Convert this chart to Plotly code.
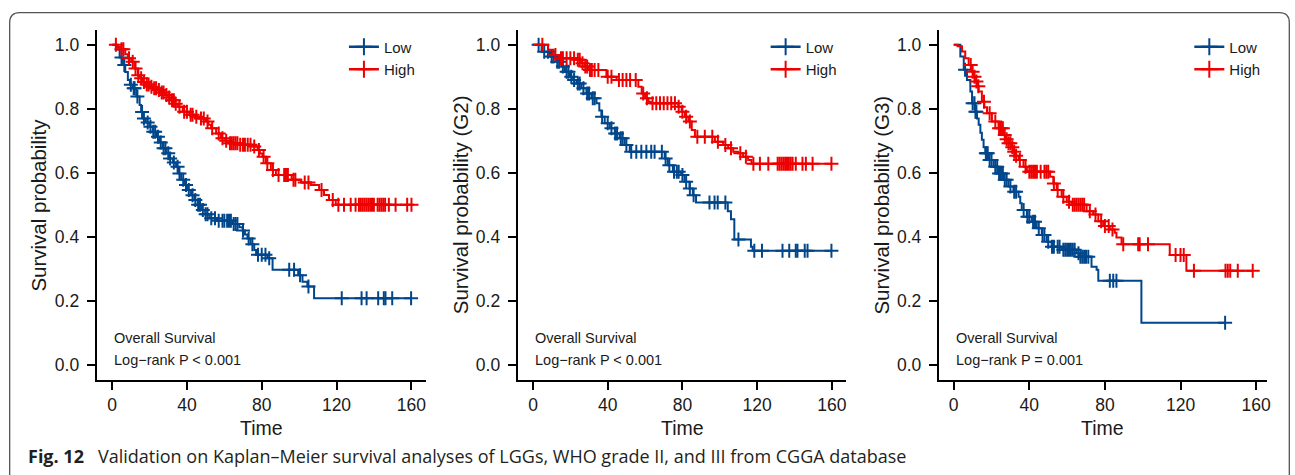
import numpy as np
import plotly.graph_objects as go

BLUE = "#00468B"
RED = "#ED0000"

# ---------------- data ----------------
# Panel 1: LGG overall
p1_low_t = [2, 4, 5.8, 7, 8.4, 9.5, 11.1, 12.9, 14.7, 15.5, 16.4, 18, 20, 21.8, 23.6, 25.3, 27.1, 29, 30.7, 32.5,
            34.2, 35.5, 36.9, 38.6, 40.4, 42.2, 44, 45.8, 47.6, 49.8, 52, 56, 64.4, 68, 69.8, 71, 72.4, 74, 76, 77,
            83.1, 85.8, 99.5, 101.8, 104.4, 108]
p1_low_s = [0.985, 0.96, 0.937, 0.915, 0.89, 0.875, 0.864, 0.838, 0.812, 0.79, 0.77, 0.757, 0.744, 0.728, 0.713,
            0.695, 0.677, 0.661, 0.645, 0.632, 0.619, 0.598, 0.578, 0.562, 0.546, 0.53, 0.515, 0.5, 0.484, 0.471,
            0.458, 0.45, 0.44, 0.43, 0.42, 0.407, 0.395, 0.377, 0.359, 0.344, 0.333, 0.297, 0.28, 0.26, 0.245, 0.208]
p1_low_c = [5, 6.5, 10, 11.5, 12, 13.5, 16, 17, 19, 20.5, 22, 23, 24.5, 26, 27.5, 28.5, 30, 31, 33, 35, 36, 38,
            39.5, 41, 43, 44.5, 46, 47, 48.5, 50, 51, 53, 55, 57, 59, 60, 61.5, 62.5, 63.5, 65, 66, 67, 70, 73, 75,
            78, 80, 82, 84, 94.7, 97.3, 100.5, 105, 122.8, 133.4, 136.1, 142.3, 145.3, 146.2, 149.8, 159.9]
p1_high_t = [3, 4.9, 7, 8.5, 10.2, 12, 13.8, 15, 16.4, 18, 20, 22, 24.4, 26, 28, 30, 31.6, 33.5, 35.1, 37.8, 41.3,
             44, 46.7, 50.2, 51.5, 52.9, 55.6, 58.2, 60.5, 62.7, 68, 75, 77.8, 79, 80.4, 82.2, 84.9, 87.6, 96, 101,
             106.2, 110.7, 113.3, 116, 119.6]
p1_high_s = [0.993, 0.986, 0.97, 0.958, 0.947, 0.926, 0.905, 0.895, 0.884, 0.876, 0.869, 0.864, 0.859, 0.851,
             0.843, 0.835, 0.827, 0.816, 0.806, 0.791, 0.781, 0.775, 0.77, 0.76, 0.75, 0.739, 0.723, 0.708, 0.7,
             0.692, 0.688, 0.682, 0.671, 0.66, 0.65, 0.63, 0.609, 0.593, 0.578, 0.57, 0.562, 0.546, 0.531, 0.515, 0.5]
p1_high_c = [2, 5, 6, 9, 11, 12.5, 14, 15.5, 17, 18.5, 19.5, 21, 22.5, 23.5, 25, 26.5, 27.5, 29, 30.5, 32, 33, 34,
             36, 38.5, 40, 42, 43, 45, 47.5, 49, 51, 53.5, 57, 59, 61, 63, 64, 65, 66, 67, 68.5, 70, 71, 72.5, 74, 76,
             78.5, 81, 83, 86, 89, 92, 93, 94, 97, 98, 103, 105, 112, 118, 121, 124, 127.6, 130.2, 132, 133, 134,
             135, 136, 137, 138, 139, 140, 142, 143, 144, 145, 146, 148, 151.6, 157.8, 160.1]

# Panel 2: WHO grade II
p2_low_t = [4.6, 9.1, 12.6, 15.3, 17.1, 19.8, 21.5, 23.3, 25.9, 28.6, 31.3, 34, 35.5, 36.6, 38.4, 41.1, 43.8, 46.4,
            49.1, 51.8, 70.5, 72.2, 74.9, 79.3, 81.1, 83.8, 85.6, 87.3, 104.3, 106, 107.8, 116.7, 117.6]
p2_low_s = [0.978, 0.963, 0.947, 0.932, 0.916, 0.9, 0.89, 0.879, 0.864, 0.848, 0.833, 0.817, 0.795, 0.775, 0.755,
            0.739, 0.723, 0.708, 0.687, 0.666, 0.645, 0.624, 0.603, 0.593, 0.572, 0.551, 0.53, 0.507, 0.48, 0.455,
            0.392, 0.369, 0.357]
p2_low_c = [3, 6, 8, 10, 11, 13, 14, 16, 18, 19, 20.5, 22, 24, 25, 27, 29, 30, 32, 33, 37, 40, 42, 44, 45, 47, 48,
            50, 52.6, 55.3, 58, 60.7, 63.3, 65.1, 69, 71, 73, 75.5, 77, 78, 80, 82, 84, 86, 94.5, 97.2, 98.9, 103,
            110, 118.5, 122.6, 133.6, 137.2, 140.7, 141.6, 145.5, 147, 159.8]
p2_high_t = [8.1, 10.8, 14, 23.3, 25.9, 27.7, 29.5, 39.3, 44.7, 56.4, 58.2, 60, 61.8, 63, 77.8, 79.6, 81.4, 83.2,
             85, 86.7, 97.4, 101.8, 104.5, 107.2, 109.8, 112.5, 115.2, 117]
p2_high_s = [0.984, 0.968, 0.958, 0.953, 0.942, 0.932, 0.921, 0.9, 0.89, 0.869, 0.848, 0.833, 0.822, 0.817, 0.806,
             0.791, 0.775, 0.76, 0.734, 0.713, 0.697, 0.687, 0.677, 0.666, 0.661, 0.65, 0.64, 0.628]
p2_high_c = [5, 12, 15, 16, 18, 20, 22, 24, 25, 26.5, 28, 29, 30.5, 31.5, 33, 35, 40, 42, 46, 48, 50, 52, 55, 59,
             61, 64, 66, 68, 70, 72, 74, 76, 78, 80, 82, 84, 88, 92, 96, 99, 103, 106, 111, 114, 118, 121.5, 126,
             131, 132, 133, 134, 135, 136, 137, 138, 139, 140.7, 144.3, 146.1, 149.7, 159.8]

# Panel 3: WHO grade III
p3_low_t = [3.5, 5.3, 7, 8.8, 9.7, 11.4, 12.3, 13.2, 14.1, 14.9, 15.8, 16.7, 18.5, 21.1, 23.7, 26.4, 29, 31.6, 34.3,
            35.2, 36, 38.7, 41.3, 43.9, 46.6, 49.2, 51.8, 57, 65, 66.8, 72.9, 75.6, 76.5, 99.3]
p3_low_s = [0.963, 0.922, 0.89, 0.854, 0.817, 0.791, 0.77, 0.75, 0.725, 0.703, 0.68, 0.661, 0.64, 0.619, 0.598,
            0.578, 0.557, 0.541, 0.525, 0.505, 0.484, 0.463, 0.447, 0.427, 0.406, 0.385, 0.369, 0.36, 0.349, 0.338,
            0.307, 0.297, 0.263, 0.132]
p3_low_c = [6, 10, 11, 11.5, 12, 17, 17.5, 18, 19, 20, 22, 23, 24, 25, 26, 27, 28, 30, 32, 33, 37, 39, 40, 42, 43,
            45, 47, 48, 50, 52, 53, 55, 56, 58, 59, 60, 61, 62, 63, 64, 66, 67, 68, 69, 70, 71.2, 82.6, 84.4, 86.1,
            143.6]
p3_high_t = [2, 4.4, 6.1, 7.9, 9.7, 10.5, 11.4, 12.3, 13.2, 14.9, 16.2, 17.6, 20.2, 23.7, 26.4, 27.7, 29, 30.3,
             31.6, 33, 34.3, 36.9, 38.7, 51, 52.7, 54.5, 57.1, 59.8, 62.4, 70.3, 73.8, 76.5, 79.1, 82.6, 85.2, 86.1,
             88.8, 114.3, 123.1]
p3_high_s = [0.995, 0.979, 0.958, 0.937, 0.916, 0.9, 0.885, 0.87, 0.854, 0.822, 0.805, 0.786, 0.76, 0.739, 0.718,
             0.705, 0.692, 0.68, 0.666, 0.653, 0.64, 0.619, 0.603, 0.588, 0.567, 0.546, 0.525, 0.51, 0.5, 0.48,
             0.47, 0.449, 0.434, 0.423, 0.413, 0.398, 0.377, 0.343, 0.294]
p3_high_c = [9, 10, 11, 12, 13, 16, 19, 22, 24, 25, 26, 27, 28, 29, 30, 31, 32, 33, 35, 38, 40, 41, 42, 43, 44, 46,
             48, 49, 50, 53, 55, 58, 61, 63, 64, 65, 66, 67, 68, 69, 72, 75, 78, 80, 82, 84, 89.7, 97.6, 98.4, 102.8,
             117.4, 120, 121.7, 127.1, 143.8, 145, 146.3, 150.3, 158.2]

y_titles = ["Survival probability", "Survival probability (G2)", "Survival probability (G3)"]
pvals = ["Log\u2212rank P < 0.001", "Log\u2212rank P < 0.001", "Log\u2212rank P = 0.001"]
x_ticks = [0, 40, 80, 120, 160]
y_ticks = [0.0, 0.2, 0.4, 0.6, 0.8, 1.0]

panels = [
    (p1_low_t, p1_low_s, p1_low_c, p1_high_t, p1_high_s, p1_high_c),
    (p2_low_t, p2_low_s, p2_low_c, p2_high_t, p2_high_s, p2_high_c),
    (p3_low_t, p3_low_s, p3_low_c, p3_high_t, p3_high_s, p3_high_c),
]

# ---------------- layout geometry (pixels) ----------------
W, H = 1295, 475
x_dom_px = [(97, 427), (519.3, 849), (941.7, 1271)]
x_ranges = [(-8.27, 167.7), (-8.2, 167.8), (-7.9, 165.8)]
y_dom_px = (30, 380)
y_range = (-0.047, 1.046)
ytitle_x_px = [37.7, 461.7, 883.3]
legend_x_px = [345, 768, 1193]


def step_xy(ev_t, ev_s, cens):
    end = max(max(cens), max(ev_t))
    xs = [0] + list(ev_t) + [end]
    ys = [1.0] + list(ev_s) + [ev_s[-1]]
    return xs, ys


def surv_at(ev_t, ev_s, t):
    ev_t = np.asarray(ev_t)
    ev_s = np.asarray(ev_s)
    idx = np.searchsorted(ev_t, t, side="right") - 1
    return np.where(idx >= 0, ev_s[np.clip(idx, 0, None)], 1.0)


fig = go.Figure()
font_axis = "Liberation Sans, Arial, sans-serif"

for i, (lt, ls, lc, ht, hs, hc) in enumerate(panels):
    n = "" if i == 0 else str(i + 1)
    xa, ya = "x" + n, "y" + n
    leg = "legend" if i == 0 else "legend" + str(i + 1)
    for name, et, es, ec, col in [("Low", lt, ls, lc, BLUE), ("High", ht, hs, hc, RED)]:
        xs, ys = step_xy(et, es, ec)
        fig.add_trace(go.Scatter(x=xs, y=ys, mode="lines", line=dict(color=col, width=2, shape="hv"),
                                 xaxis=xa, yaxis=ya, showlegend=False, hoverinfo="skip"))
        cy = surv_at(et, es, np.asarray(ec))
        fig.add_trace(go.Scatter(x=ec, y=cy, mode="markers",
                                 marker=dict(symbol="cross-thin", size=10, color=col,
                                             line=dict(width=2, color=col)),
                                 xaxis=xa, yaxis=ya, showlegend=False, hoverinfo="skip"))
        # legend entry
        fig.add_trace(go.Scatter(x=[None], y=[None], mode="lines+markers", name=name,
                                 line=dict(color=col, width=2.5),
                                 marker=dict(symbol="cross-thin", size=12, color=col,
                                             line=dict(width=2, color=col)),
                                 xaxis=xa, yaxis=ya, legend=leg, showlegend=True))

    x0, x1 = x_dom_px[i]
    axis_common = dict(showline=True, linecolor="black", linewidth=2, ticks="outside", ticklen=8,
                       tickwidth=2, tickcolor="black", showgrid=False, zeroline=False,
                       tickfont=dict(family=font_axis, size=17.5, color="#1a1a1a"), mirror=False)
    fig.update_layout({
        "xaxis" + n: dict(domain=[x0 / W, x1 / W], range=list(x_ranges[i]), tickvals=x_ticks,
                          anchor=ya, ticklabelstandoff=0, **axis_common),
        "yaxis" + n: dict(domain=[1 - y_dom_px[1] / H, 1 - y_dom_px[0] / H], range=list(y_range),
                          tickvals=y_ticks, tickformat=".1f", anchor=xa, ticklabelstandoff=4, **axis_common),
        leg: dict(x=legend_x_px[i] / W, y=1 - 30.5 / H, xanchor="left", yanchor="top",
                  bgcolor="rgba(0,0,0,0)", font=dict(family=font_axis, size=15, color="#1a1a1a"),
                  tracegroupgap=0, itemwidth=30),
    })

    # text annotations
    fig.add_annotation(x=0, y=0.084, xref=xa, yref=ya, text="Overall Survival", showarrow=False,
                       xanchor="left", yanchor="middle", font=dict(family=font_axis, size=14.5, color="#1a1a1a"))
    fig.add_annotation(x=0, y=0.016, xref=xa, yref=ya, text=pvals[i], showarrow=False,
                       xanchor="left", yanchor="middle", font=dict(family=font_axis, size=14.5, color="#1a1a1a"))
    fig.add_annotation(x=(x0 + x1) / 2 / W, y=1 - 428 / H, xref="paper", yref="paper", text="Time",
                       showarrow=False, xanchor="center", yanchor="middle",
                       font=dict(family=font_axis, size=19.5, color="#1a1a1a"))
    fig.add_annotation(x=ytitle_x_px[i] / W, y=1 - 205 / H, xref="paper", yref="paper", text=y_titles[i],
                       showarrow=False, textangle=-90, xanchor="center", yanchor="middle",
                       font=dict(family=font_axis, size=20.5, color="#1a1a1a"))

# caption
fig.add_annotation(x=26.5 / W, y=1 - 456 / H, xref="paper", yref="paper", text="<b>Fig. 12</b>",
                   showarrow=False, xanchor="left", yanchor="middle",
                   font=dict(family="Open Sans, sans-serif", size=18, color="#231f20"))
fig.add_annotation(x=96.5 / W, y=1 - 456 / H, xref="paper", yref="paper",
                   text="Validation on Kaplan\u2013Meier survival analyses of LGGs, WHO grade II, and III from CGGA database",
                   showarrow=False, xanchor="left", yanchor="middle",
                   font=dict(family="Open Sans, sans-serif", size=18, color="#231f20"))

# rounded frame
fx0, fx1, fy0 = 9.7, 1293.3, 12.7
r = 10
def px(x):
    return x / W
def py(y):
    return 1 - y / H
path = (f"M {px(fx0)},{py(500)} L {px(fx0)},{py(fy0 + r)} Q {px(fx0)},{py(fy0)} {px(fx0 + r)},{py(fy0)} "
        f"L {px(fx1 - r)},{py(fy0)} Q {px(fx1)},{py(fy0)} {px(fx1)},{py(fy0 + r)} L {px(fx1)},{py(500)}")
fig.add_shape(type="path", path=path, xref="paper", yref="paper", line=dict(color="#555555", width=1.3))

fig.update_layout(width=W, height=H, margin=dict(l=0, r=0, t=0, b=0), paper_bgcolor="white",
                  plot_bgcolor="white", showlegend=True)

fig.write_html("out.html")
